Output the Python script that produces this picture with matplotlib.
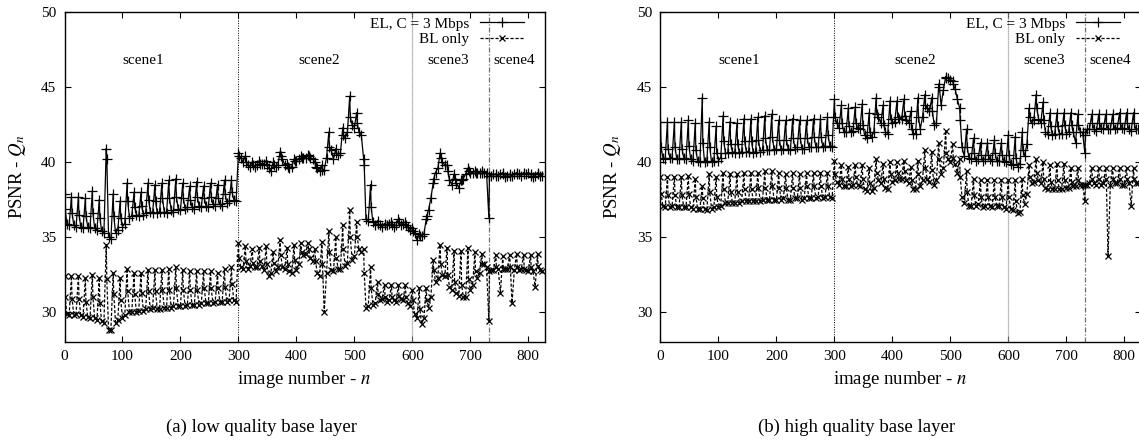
import numpy as np
import matplotlib
matplotlib.use("Agg")
import matplotlib.pyplot as plt

plt.rcParams['font.family'] = ['Liberation Serif', 'DejaVu Serif']
plt.rcParams['mathtext.fontset'] = 'stix'

# ---------------- data (GOP of 12 frames, 69 GOPs) ----------------
gop_len = 12
n_gops = 69
frame_offsets = [0, 1, 4, 8]          # I-frame, next frame, two later frames in the GOP

# (a) low quality base layer -- EL, C = 3 Mbps
el_a_peak = [37.9, 37.7, 37.7, 37.6, 38.1, 37.5, 40.9, 37.9, 37.4, 38.6, 38.0, 38.0, 38.6, 38.5, 38.6, 38.8, 38.9, 38.6, 38.4, 38.7, 38.4, 38.6, 38.5, 38.8, 38.8,
             40.6, 40.4, 40.0, 40.1, 40.1, 40.0, 40.7, 39.9, 40.2, 40.4, 40.5, 40.0, 39.8, 42.0, 40.9, 42.3, 44.4, 43.3, 40.2, 38.5, 36.1, 35.9, 36.0, 36.2, 36.0,
             35.6, 35.2, 36.2, 38.6, 40.6, 39.8, 39.2, 38.8, 39.6, 39.4, 39.4,
             36.3, 39.2, 39.3, 39.2, 39.3, 39.3, 39.2, 39.3]
el_a_mid = [36.9, 36.6, 36.5, 36.4, 36.6, 36.3, 40.2, 36.4, 36.3, 37.4, 37.0, 37.1, 37.5, 37.4, 37.6, 37.6, 37.7, 37.6, 37.5, 37.7, 37.6, 37.7, 37.6, 37.9, 38.0,
            40.4, 40.0, 39.8, 39.9, 39.8, 39.8, 40.4, 39.7, 40.1, 40.3, 40.4, 39.7, 39.5, 41.0, 40.6, 41.8, 43.0, 42.6, 39.8, 37.0, 35.9, 35.8, 35.8, 36.0, 35.8,
            35.4, 35.1, 36.4, 38.9, 40.3, 39.4, 38.9, 38.8, 39.4, 39.3, 39.3,
            39.1, 39.1, 39.2, 39.1, 39.2, 39.2, 39.1, 39.2]
el_a_lo1 = [35.9, 35.8, 35.7, 35.7, 35.6, 35.4, 35.0, 35.3, 35.7, 36.3, 36.5, 36.5, 36.7, 36.6, 36.7, 36.8, 36.9, 36.9, 37.0, 37.1, 37.1, 37.2, 37.2, 37.3, 37.5,
            40.3, 39.8, 39.7, 39.9, 39.6, 39.7, 40.2, 39.6, 40.1, 40.3, 40.3, 39.6, 39.5, 40.8, 40.5, 41.6, 42.5, 42.0, 36.2, 36.0, 35.8, 35.8, 35.7, 35.8, 35.7,
            35.3, 35.1, 36.8, 39.3, 40.0, 38.8, 38.6, 38.9, 39.3, 39.3, 39.3,
            39.1, 39.1, 39.0, 39.1, 39.2, 39.2, 39.0, 39.1]
el_a_lo2 = [35.8, 35.7, 35.6, 35.6, 35.5, 35.3, 34.9, 35.5, 35.9, 36.4, 36.4, 36.6, 36.6, 36.7, 36.6, 36.7, 36.8, 37.0, 36.9, 37.0, 37.0, 37.1, 37.1, 37.4, 37.4,
            40.0, 39.7, 39.8, 39.9, 39.4, 39.8, 39.8, 39.7, 40.2, 40.3, 40.2, 39.4, 40.3, 40.2, 40.6, 42.0, 42.3, 41.8, 36.1, 35.8, 35.7, 35.9, 35.8, 35.9, 35.5,
            34.8, 35.2, 37.6, 39.6, 39.8, 38.5, 38.3, 39.2, 39.3, 39.3, 39.3,
            39.2, 39.2, 39.1, 39.2, 39.1, 39.3, 39.1, 39.1]

# (a) low quality base layer -- BL only
bl_a_peak = [32.4, 32.4, 32.4, 32.3, 32.5, 32.3, 34.5, 32.6, 32.3, 32.9, 32.6, 32.6, 32.8, 32.8, 32.8, 32.9, 33.0, 32.8, 32.7, 32.7, 32.7, 32.7, 32.6, 32.9, 33.0,
             34.6, 34.4, 34.2, 34.3, 34.4, 34.0, 34.8, 34.3, 34.5, 34.6, 34.6, 34.2, 34.7, 35.4, 35.0, 35.8, 36.8, 36.0, 34.2, 33.0, 32.0, 31.8, 31.8, 31.8, 31.8,
             31.5, 31.6, 31.6, 33.5, 34.5, 34.3, 34.1, 34.1, 34.3, 34.0, 33.9,
             29.4, 33.8, 33.7, 33.8, 33.9, 33.8, 33.8, 33.9]
bl_a_mid = [31.0, 30.9, 30.9, 30.7, 31.0, 30.6, 32.2, 31.2, 30.8, 31.4, 31.2, 31.3, 31.4, 31.4, 31.5, 31.5, 31.6, 31.5, 31.5, 31.5, 31.6, 31.6, 31.6, 31.7, 31.9,
            33.6, 33.4, 33.3, 33.4, 33.2, 33.3, 33.8, 33.2, 33.5, 34.0, 34.2, 33.4, 33.2, 34.0, 33.6, 34.2, 35.0, 35.0, 32.6, 31.6, 31.2, 31.0, 31.0, 31.1, 31.0,
            30.8, 30.2, 30.8, 32.8, 33.2, 32.5, 32.0, 31.8, 32.2, 32.7, 33.2,
            32.7, 33.0, 32.9, 33.0, 33.0, 32.9, 33.0, 33.1]
bl_a_lo1 = [29.9, 29.8, 29.8, 29.7, 29.6, 29.4, 28.8, 29.3, 29.6, 30.0, 30.0, 30.1, 30.2, 30.2, 30.3, 30.3, 30.4, 30.4, 30.5, 30.5, 30.6, 30.6, 30.7, 30.7, 30.8,
            33.0, 32.9, 33.0, 33.1, 32.4, 32.7, 33.0, 32.7, 32.8, 33.8, 33.6, 32.6, 30.0, 32.8, 32.9, 33.1, 33.5, 34.2, 30.3, 30.5, 30.8, 30.7, 30.8, 30.9, 30.6,
            29.9, 29.2, 30.3, 32.0, 32.5, 31.7, 31.3, 31.0, 31.5, 32.3, 33.2,
            32.8, 32.9, 32.9, 30.6, 32.8, 32.8, 32.7, 32.8]
bl_a_lo2 = [29.8, 29.9, 29.7, 29.6, 29.5, 29.3, 28.8, 29.5, 29.8, 30.0, 30.1, 30.2, 30.3, 30.2, 30.3, 30.4, 30.4, 30.5, 30.5, 30.6, 30.6, 30.7, 30.7, 30.8, 30.7,
            32.9, 33.1, 33.0, 32.8, 32.6, 33.0, 32.9, 32.6, 33.2, 33.9, 33.4, 32.4, 32.6, 32.7, 32.9, 33.3, 33.7, 34.0, 30.4, 30.6, 30.9, 30.8, 30.7, 30.8, 30.4,
            29.6, 29.6, 31.0, 32.3, 32.4, 31.5, 31.1, 31.0, 31.8, 32.6, 33.0,
            32.8, 31.3, 32.9, 32.8, 32.9, 32.7, 31.7, 32.7]

# (b) high quality base layer -- EL, C = 3 Mbps
el_b_peak = [42.7, 42.7, 42.7, 42.7, 42.8, 42.6, 44.3, 42.7, 42.4, 43.1, 42.7, 42.6, 42.9, 42.9, 43.0, 43.1, 43.2, 42.8, 42.8, 42.9, 42.8, 42.8, 42.9, 42.9, 43.0,
             44.2, 43.8, 43.6, 43.7, 43.9, 43.3, 44.3, 43.8, 44.1, 44.1, 44.2, 43.4, 44.3, 44.5, 44.3, 45.2, 45.7, 45.4, 43.6, 42.2, 41.6, 41.3, 41.3, 41.5, 41.3,
             41.8, 41.7, 42.0, 43.6, 44.5, 44.0, 43.3, 43.3, 43.3, 43.3, 43.2,
             40.6, 43.2, 43.2, 43.2, 43.2, 43.3, 43.3, 43.3]
el_b_mid = [41.0, 40.9, 41.0, 40.9, 41.1, 40.8, 41.3, 41.0, 40.6, 41.4, 41.2, 41.2, 41.4, 41.4, 41.5, 41.6, 41.7, 41.5, 41.5, 41.6, 41.6, 41.6, 41.7, 41.7, 41.8,
            43.0, 42.6, 42.4, 42.6, 42.5, 42.0, 43.2, 42.5, 42.9, 43.0, 43.1, 42.2, 43.0, 43.8, 43.4, 45.0, 45.6, 45.2, 42.8, 41.0, 40.6, 40.5, 40.5, 40.6, 40.5,
            40.5, 40.3, 40.8, 43.0, 43.6, 42.8, 42.4, 42.4, 42.5, 42.5, 42.5,
            41.8, 42.6, 42.6, 42.6, 42.6, 42.6, 42.6, 42.6]
el_b_lo1 = [40.3, 40.3, 40.2, 40.3, 40.2, 40.1, 40.0, 40.0, 40.1, 40.6, 40.7, 40.6, 40.7, 40.6, 40.7, 40.8, 40.8, 40.8, 40.9, 40.9, 40.9, 41.0, 41.0, 41.0, 41.1,
            42.6, 42.0, 42.0, 42.3, 41.8, 41.7, 43.0, 42.0, 42.6, 42.9, 42.8, 41.9, 42.2, 43.6, 42.5, 43.8, 45.6, 44.9, 41.0, 40.3, 40.1, 40.1, 40.2, 40.1, 40.1,
            39.9, 39.7, 40.4, 42.6, 42.9, 42.0, 41.8, 41.9, 41.9, 42.0, 42.0,
            42.2, 42.2, 42.3, 42.2, 42.2, 42.3, 42.2, 42.2]
el_b_lo2 = [40.2, 40.3, 40.2, 40.2, 40.1, 40.0, 40.1, 40.1, 40.3, 40.6, 40.6, 40.7, 40.7, 40.7, 40.8, 40.8, 40.9, 40.9, 40.8, 41.0, 40.9, 41.0, 41.0, 41.1, 41.0,
            42.3, 42.0, 42.1, 42.2, 41.6, 42.0, 42.6, 41.9, 42.7, 42.9, 42.6, 41.9, 43.0, 43.4, 42.6, 44.8, 45.5, 44.2, 40.4, 40.2, 40.2, 40.2, 40.1, 40.1, 40.0,
            39.8, 39.9, 41.2, 42.8, 42.6, 41.9, 41.9, 41.9, 42.0, 41.3, 42.0,
            42.2, 42.1, 42.2, 42.2, 42.3, 42.2, 42.1, 42.2]

# (b) high quality base layer -- BL only
bl_b_peak = [39.0, 39.0, 39.0, 39.0, 39.1, 38.9, 38.4, 39.2, 39.0, 39.3, 39.2, 39.2, 39.3, 39.3, 39.3, 39.4, 39.4, 39.3, 39.2, 39.3, 39.2, 39.3, 39.3, 39.3, 39.3,
             40.1, 39.8, 39.7, 39.8, 39.8, 39.6, 40.2, 39.9, 40.0, 40.0, 40.1, 39.7, 40.1, 40.8, 40.7, 41.3, 42.1, 41.2, 40.2, 39.4, 38.9, 38.8, 38.8, 38.8, 38.8,
             38.8, 38.8, 38.9, 39.8, 40.2, 40.0, 39.8, 39.9, 39.9, 39.6, 39.6,
             37.4, 39.6, 39.6, 39.6, 39.6, 39.6, 39.6, 39.6]
bl_b_mid = [37.9, 37.8, 37.8, 37.8, 37.9, 37.7, 37.6, 38.0, 37.7, 38.2, 38.0, 38.0, 38.2, 38.2, 38.3, 38.3, 38.4, 38.3, 38.3, 38.3, 38.3, 38.4, 38.4, 38.4, 38.4,
            39.2, 38.9, 38.9, 39.0, 38.9, 38.6, 39.3, 38.9, 39.2, 39.3, 39.4, 38.8, 39.2, 39.6, 39.5, 40.2, 40.6, 40.3, 39.0, 38.0, 37.8, 37.7, 37.7, 37.7, 37.7,
            37.7, 37.4, 37.8, 39.0, 39.3, 38.9, 38.7, 38.8, 38.8, 38.7, 38.8,
            38.5, 38.9, 38.9, 38.9, 38.9, 38.9, 38.9, 38.9]
bl_b_lo1 = [37.1, 37.0, 37.0, 37.0, 37.0, 36.9, 36.9, 36.9, 37.0, 37.3, 37.3, 37.3, 37.4, 37.4, 37.4, 37.5, 37.5, 37.5, 37.5, 37.6, 37.5, 37.6, 37.6, 37.6, 37.7,
            38.7, 38.4, 38.4, 38.5, 38.2, 38.1, 38.8, 38.3, 38.7, 38.9, 38.8, 38.2, 38.4, 38.9, 38.5, 39.2, 40.2, 39.9, 37.7, 37.1, 37.1, 37.0, 37.1, 37.1, 37.0,
            36.9, 36.6, 37.2, 38.6, 38.8, 38.3, 38.2, 38.2, 38.3, 38.4, 38.5,
            38.5, 38.6, 38.5, 33.7, 38.6, 38.5, 38.6, 38.6]
bl_b_lo2 = [37.0, 37.1, 37.0, 37.0, 36.9, 36.9, 36.8, 37.0, 37.1, 37.3, 37.3, 37.4, 37.4, 37.4, 37.5, 37.5, 37.5, 37.6, 37.5, 37.6, 37.6, 37.6, 37.7, 37.7, 37.6,
            38.5, 38.4, 38.5, 38.4, 38.1, 38.3, 38.6, 38.2, 38.8, 38.9, 38.6, 38.2, 38.8, 38.7, 38.8, 39.6, 40.0, 39.3, 37.3, 37.1, 37.2, 37.1, 37.0, 37.1, 36.9,
            36.8, 36.7, 37.9, 38.7, 38.6, 38.2, 38.2, 38.2, 38.3, 38.4, 38.5,
            38.6, 38.5, 38.6, 38.5, 38.6, 38.5, 37.1, 38.6]

scene_bounds = [300, 600, 732]
scene_names = ["scene1", "scene2", "scene3", "scene4"]
scene_label_x = [135, 439, 662, 775]
legend_labels = ["EL, C = 3 Mbps", "BL only"]
captions = ["(a) low quality base layer", "(b) high quality base layer"]
x_max = 828
y_min, y_max = 28, 50


def series(values_by_offset):
    starts = np.arange(n_gops) * gop_len
    xs = np.stack([starts + o for o in frame_offsets], axis=1).ravel()
    ys = np.stack([np.asarray(v, float) for v in values_by_offset], axis=1).ravel()
    return xs, ys


W, H = 1139, 443
fig = plt.figure(figsize=(W / 100, H / 100), dpi=100)

panels = [
    (64.5, 18, (el_a_peak, el_a_mid, el_a_lo1, el_a_lo2), (bl_a_peak, bl_a_mid, bl_a_lo1, bl_a_lo2), captions[0], 261),
    (660.5, 613, (el_b_peak, el_b_mid, el_b_lo1, el_b_lo2), (bl_b_peak, bl_b_mid, bl_b_lo1, bl_b_lo2), captions[1], 857),
]
ax_w = 480.0
ax_top, ax_bot = 12.0, 342.0

for left_px, ylab_px, el_vals, bl_vals, cap, cap_x in panels:
    ax = fig.add_axes([left_px / W, 1 - ax_bot / H, ax_w / W, (ax_bot - ax_top) / H])
    xe, ye = series(el_vals)
    xb, yb = series(bl_vals)
    ax.plot(xe, ye, color='black', lw=0.9, marker='+', ms=7, mew=0.9,
            label=legend_labels[0], zorder=3)
    ax.plot(xb, yb, color='black', lw=0.9, ls=(0, (2.5, 1.5)), marker='x', ms=5, mew=0.9,
            label=legend_labels[1], zorder=3)

    ax.axvline(scene_bounds[0], color='black', lw=0.7, ls=(0, (1, 1.5)), zorder=2)
    ax.axvline(scene_bounds[1], color='#9a9a9a', lw=0.9, ls=(0, (1, 0.6)), zorder=2)
    ax.axvline(scene_bounds[2], color='#707070', lw=0.9, ls=(0, (4, 1.5, 1, 1.5)), zorder=2)

    for name, sx in zip(scene_names, scene_label_x):
        ax.text(sx, 46.8, name, ha='center', va='center', fontsize=11)

    ax.set_xlim(0, x_max)
    ax.set_ylim(y_min, y_max)
    ax.set_xticks(range(0, 801, 100))
    ax.set_yticks(range(30, 51, 5))
    ax.tick_params(direction='in', top=True, right=True, length=4, width=0.8,
                   labelsize=11, pad=6)
    for sp in ax.spines.values():
        sp.set_linewidth(1.0)

    ax.set_xlabel("image number - $n$", fontsize=13.5)
    ax.xaxis.set_label_coords(0.5, -(380 - ax_bot) / (ax_bot - ax_top))
    ax.xaxis.label.set_va('center')
    ax.set_ylabel("PSNR - $Q_n$", fontsize=13.5)
    ax.yaxis.set_label_coords((ylab_px - left_px) / ax_w, 0.5)
    ax.yaxis.label.set_va('center')

    ax.legend(loc='upper right', bbox_to_anchor=((524 - left_px + 64.5 - 64.5) / ax_w if left_px < 100 else (1120 - left_px) / ax_w,
                                                 (ax_bot - 17) / (ax_bot - ax_top)),
              markerfirst=False, frameon=False, fontsize=11, handlelength=2.9,
              handletextpad=0.7, borderaxespad=0, borderpad=0, labelspacing=0.1,
              numpoints=1)

    fig.text(cap_x / W, 1 - 427 / H, cap, ha='center', va='center', fontsize=13.5)

fig.savefig("out.png", dpi=100)
